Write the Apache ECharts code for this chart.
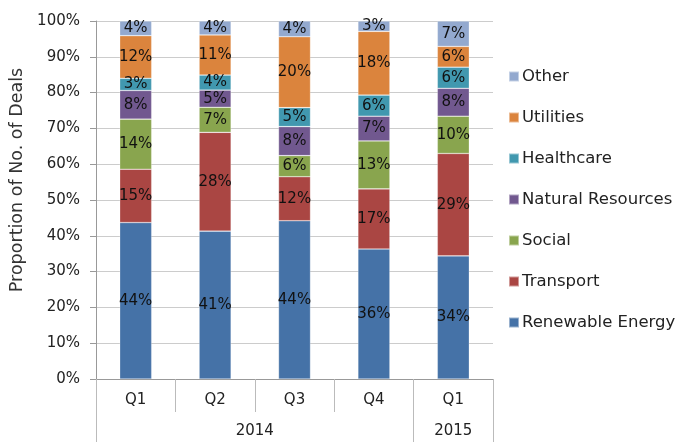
<!DOCTYPE html>
<html><head><meta charset="utf-8">
<script src="https://cdn.jsdelivr.net/npm/echarts@6/dist/echarts.min.js"></script>
<style>html,body{margin:0;padding:0;background:#fff}#c{width:685px;height:442px}</style>
</head><body><div id="c"></div>
<script>
var quarters = ['Q1','Q2','Q3','Q4','Q1'];
var years = ['2014','2015'];
var seriesNames = ['Renewable Energy','Transport','Social','Natural Resources','Healthcare','Utilities','Other'];
var renewable = [43.7, 41.3, 44.2, 36.3, 34.4];
var transport = [14.9, 27.6, 12.3, 16.8, 28.6];
var social    = [14.0, 7.0, 5.9, 13.4, 10.4];
var natural   = [8.0, 4.8, 8.1, 6.9, 7.8];
var healthcare= [3.4, 4.2, 5.3, 5.9, 5.9];
var utilities = [11.9, 11.2, 19.8, 17.8, 5.8];
var other     = [4.1, 3.9, 4.4, 2.9, 7.1];
var yTicks = [0,10,20,30,40,50,60,70,80,90,100];

var values = [renewable, transport, social, natural, healthcare, utilities, other];
var colors = ['#4572A7','#AA4643','#89A54E','#71588F','#4198AF','#DB843D','#93A9CF'];
var FONT = 'DejaVu Sans';

var chart = echarts.init(document.getElementById('c'));
var series = seriesNames.map(function(n, i){
  return {
    name: n, type: 'bar', stack: 'total', barWidth: 32,
    data: values[i],
    itemStyle: {color: colors[i], borderColor: 'rgba(255,255,255,0.45)', borderWidth: 0.6},
    label: {show: true, position: 'inside', color: '#111', fontFamily: FONT, fontSize: 15,
      formatter: function(p){ return Math.round(p.value) + '%'; }}
  };
});
chart.setOption({
  animation: false,
  textStyle: {fontFamily: FONT},
  grid: {left: 96, right: 192, top: 21, bottom: 63},
  legend: {
    orient: 'vertical', left: 503, top: 63, itemGap: 24,
    itemWidth: 10, itemHeight: 10, icon: 'rect',
    data: seriesNames.slice().reverse(),
    textStyle: {fontFamily: FONT, fontSize: 16.5, lineHeight: 16, color: '#222', padding: [0,0,0,-2]}
  },
  xAxis: [{
    type: 'category', data: quarters, position: 'bottom',
    axisLine: {show: true, lineStyle: {color: '#999'}},
    axisTick: {show: true, alignWithLabel: false, interval: 0, length: 33, lineStyle: {color: '#bbb', width: 1}},
    axisLabel: {fontFamily: FONT, fontSize: 15, color: '#222', margin: 14}
  },{
    type: 'value', min: 0, max: 5, position: 'bottom', offset: 33,
    axisLine: {show: false},
    splitLine: {show: false},
    axisTick: {show: true, length: 40, customValues: [0,4,5], lineStyle: {color: '#bbb'}},
    axisLabel: {show: true, customValues: [2, 4.5], fontFamily: FONT, fontSize: 15, color: '#222', margin: 12,
      formatter: function(v){ return v < 4 ? years[0] : years[1]; }}
  }],
  yAxis: {
    type: 'value', min: 0, max: 100, interval: 10,
    name: 'Proportion of No. of Deals', nameLocation: 'middle', nameGap: 61, nameRotate: 90,
    nameTextStyle: {fontFamily: FONT, fontSize: 17.5, color: '#333', padding: [0,0,0,40]},
    axisLine: {show: true, lineStyle: {color: '#999'}},
    axisTick: {show: true, length: 6, inside: false, lineStyle: {color: '#999'}},
    splitLine: {lineStyle: {color: '#ccc'}},
    axisLabel: {fontFamily: FONT, fontSize: 15, color: '#222', margin: 16,
      formatter: function(v){ return yTicks.indexOf(v) >= 0 ? v + '%' : ''; }}
  },
  series: series
});
</script></body></html>
